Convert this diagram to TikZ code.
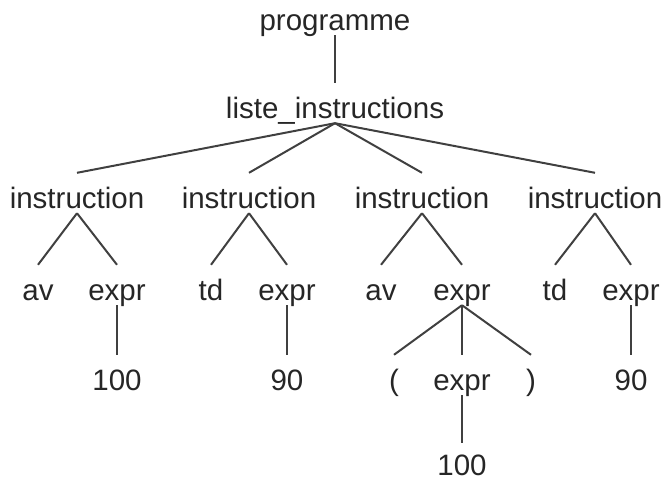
\documentclass[tikz,border=0pt]{standalone}
\usepackage{fontspec}
\setmainfont{Liberation Sans}
\begin{document}
\begin{tikzpicture}[
    x=1pt, y=-1pt,
    sym/.style={
      anchor=base,
      inner sep=0pt,
      text height=35pt,
      text depth=5pt,
      text=black!85,
      font=\fontsize{29.5}{34}\selectfont
    },
    branch/.style={line width=2pt, draw=black!75}
  ]
  \useasboundingbox (0,0) rectangle (667,482);

  % Root and statement list
  \node[sym] (prog)  at (335,30)  {programme};
  \node[sym] (liste) at (335,118) {liste\_instructions};

  % The four statements
  \node[sym] (i1) at (77,208)  {instruction};
  \node[sym] (i2) at (249,208) {instruction};
  \node[sym] (i3) at (422,208) {instruction};
  \node[sym] (i4) at (595,208) {instruction};

  % av 100
  \node[sym] (av1) at (38,300)  {av};
  \node[sym] (e1)  at (117,300) {expr};
  \node[sym] (n1)  at (117,390) {100};

  % td 90
  \node[sym] (td2) at (211,300) {td};
  \node[sym] (e2)  at (287,300) {expr};
  \node[sym] (n2)  at (287,390) {90};

  % av ( 100 )
  \node[sym] (av3) at (381,300) {av};
  \node[sym] (e3)  at (462,300) {expr};
  \node[sym] (lp)  at (394,390) {(};
  \node[sym] (e4)  at (462,390) {expr};
  \node[sym] (rp)  at (531,390) {)};
  \node[sym, text depth=0pt, text height=32pt] (n4) at (462,475) {100};

  % td 90
  \node[sym] (td4) at (555,300) {td};
  \node[sym] (e5)  at (631,300) {expr};
  \node[sym] (n5)  at (631,390) {90};

  % Branches
  \draw[branch] (prog.south) -- (liste.north);
  \foreach \c in {i1,i2,i3,i4}
    \draw[branch] (liste.south) -- (\c.north);
  \foreach \p/\a/\b in {i1/av1/e1, i2/td2/e2, i3/av3/e3, i4/td4/e5} {
    \draw[branch] (\p.south) -- (\a.north);
    \draw[branch] (\p.south) -- (\b.north);
  }
  \foreach \c in {lp,e4,rp}
    \draw[branch] (e3.south) -- (\c.north);
  \draw[branch] (e1.south) -- (n1.north);
  \draw[branch] (e2.south) -- (n2.north);
  \draw[branch] (e4.south) -- (n4.north);
  \draw[branch] (e5.south) -- (n5.north);
\end{tikzpicture}
\end{document}
